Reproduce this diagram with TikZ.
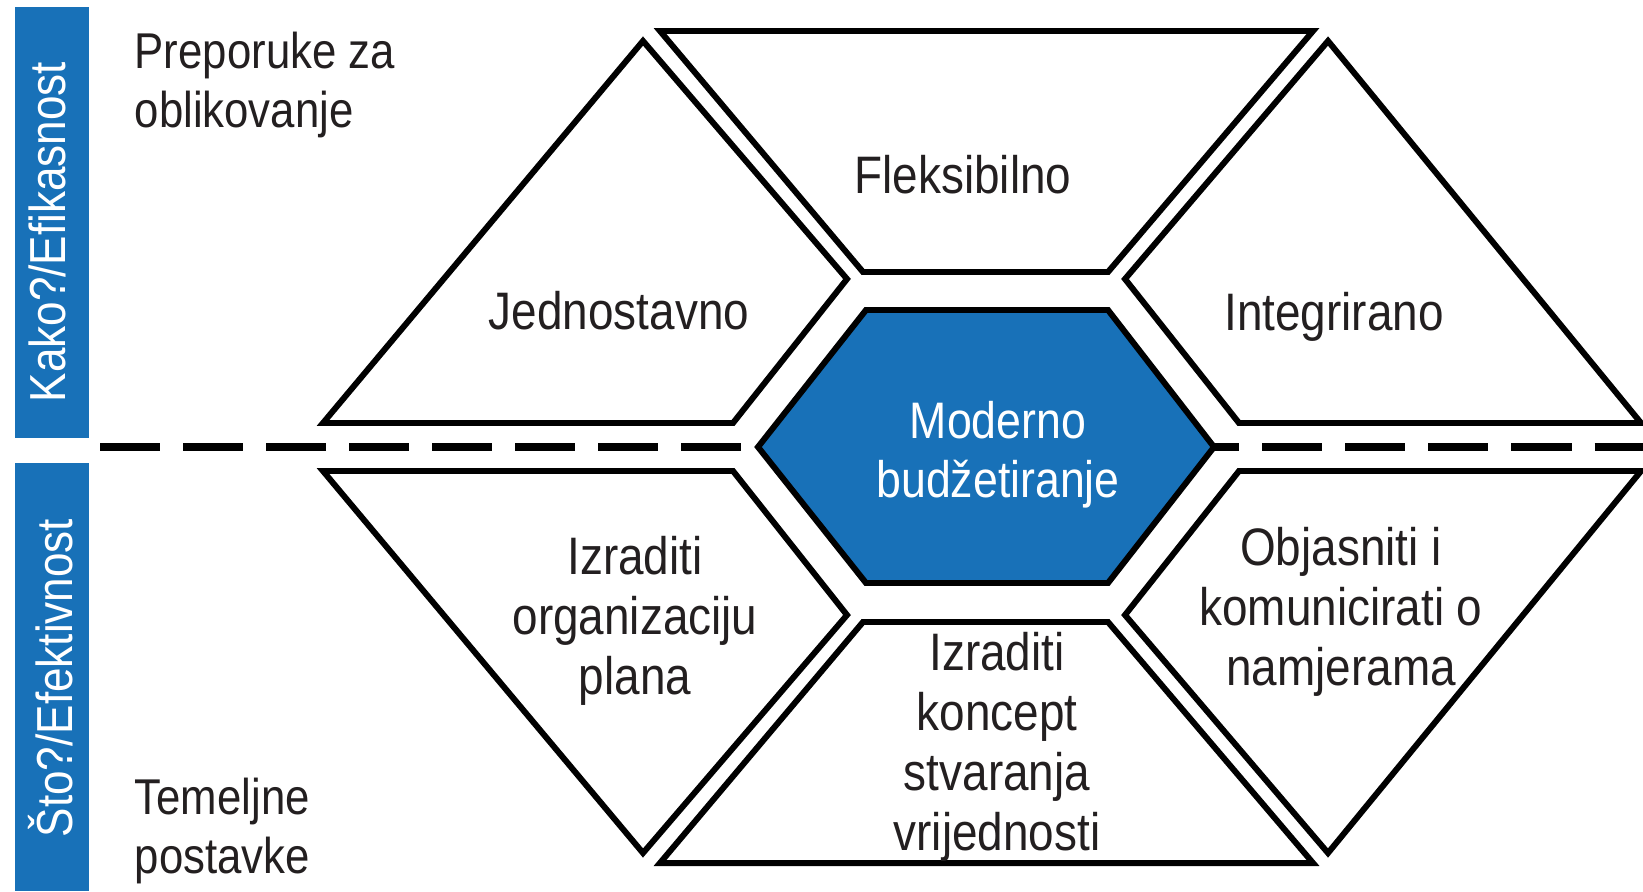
\documentclass[tikz,border=0pt]{standalone}
\usepackage{fontspec}
\setmainfont{Liberation Sans}[FakeStretch=0.87]
\definecolor{budgetblue}{RGB}{24,113,184}
\definecolor{inkgray}{RGB}{35,31,32}

\begin{document}
\begin{tikzpicture}[x=0.01cm,y=-0.01cm,
    tile/.style={draw=black,line width=1.7pt},
    hexcell/.style={tile,fill=budgetblue},
    sidebar/.style={fill=budgetblue},
    sidelabel/.style={text=white,rotate=90,anchor=base,inner sep=0pt,font=\fontsize{14.4}{17}\selectfont},
    tilelabel/.style={text=inkgray,align=center,inner sep=0pt,font=\fontsize{15}{17}\selectfont},
    cornerlabel/.style={text=inkgray,align=left,anchor=west,inner sep=0pt,font=\fontsize{14.3}{17}\selectfont},
    divider/.style={line width=2.3pt,dash pattern=on 17.07pt off 6.54pt}]

   \useasboundingbox (0,0) rectangle (1643,891);

   % blue bars at the left
   \fill[sidebar] (15,7) rectangle (89,438);
   \fill[sidebar] (15,463) rectangle (89,891);
   \node[sidelabel] (how) at (65,232) {Kako?/Efikasnost};
   \node[sidelabel] (what) at (72,678) {Što?/Efektivnost};

   \node[cornerlabel] (design) at (134,85) {Preporuke za\\oblikovanje};
   \node[cornerlabel] (basics) at (134,831) {Temeljne\\postavke};

   % dashed divider, goes under the hexagon
   \draw[divider] (100,447) -- (1643,447);

   % upper row
   \draw[tile] (643,41) -- (847,279) -- (733,423) -- (323,423) -- cycle;
   \draw[tile] (660,31) -- (1313,31) -- (1108,272) -- (863,272) -- cycle;
   \draw[tile] (1328,41) -- (1641,423) -- (1239,423) -- (1125,279) -- cycle;

   % lower row is the mirror of the upper one
   \begin{scope}[shift={(0,894)},yscale=-1]
     \draw[tile] (643,41) -- (847,279) -- (733,423) -- (323,423) -- cycle;
     \draw[tile] (660,31) -- (1313,31) -- (1108,272) -- (863,272) -- cycle;
     \draw[tile] (1328,41) -- (1641,423) -- (1239,423) -- (1125,279) -- cycle;
   \end{scope}

   % centre
   \draw[hexcell] (758,447) -- (866,310) -- (1108,310) -- (1214,447)
      -- (1108,583) -- (866,583) -- cycle;

   \node[tilelabel] (simple) at (619,311) {Jednostavno};
   \node[tilelabel] (flexible) at (963,175) {Fleksibilno};
   \node[tilelabel] (integrated) at (1334,317) {Integrirano};
   \node[tilelabel,text=white,font=\fontsize{14.6}{16.8}\selectfont] (modern) at (998,455) {Moderno\\budžetiranje};
   \node[tilelabel] (organise) at (635,621) {Izraditi\\organizaciju\\plana};
   \node[tilelabel] (concept) at (997,747) {Izraditi\\koncept\\stvaranja\\vrijednosti};
   \node[tilelabel] (explain) at (1341,612) {Objasniti i\\komunicirati o\\namjerama};
 \end{tikzpicture}
\end{document}
